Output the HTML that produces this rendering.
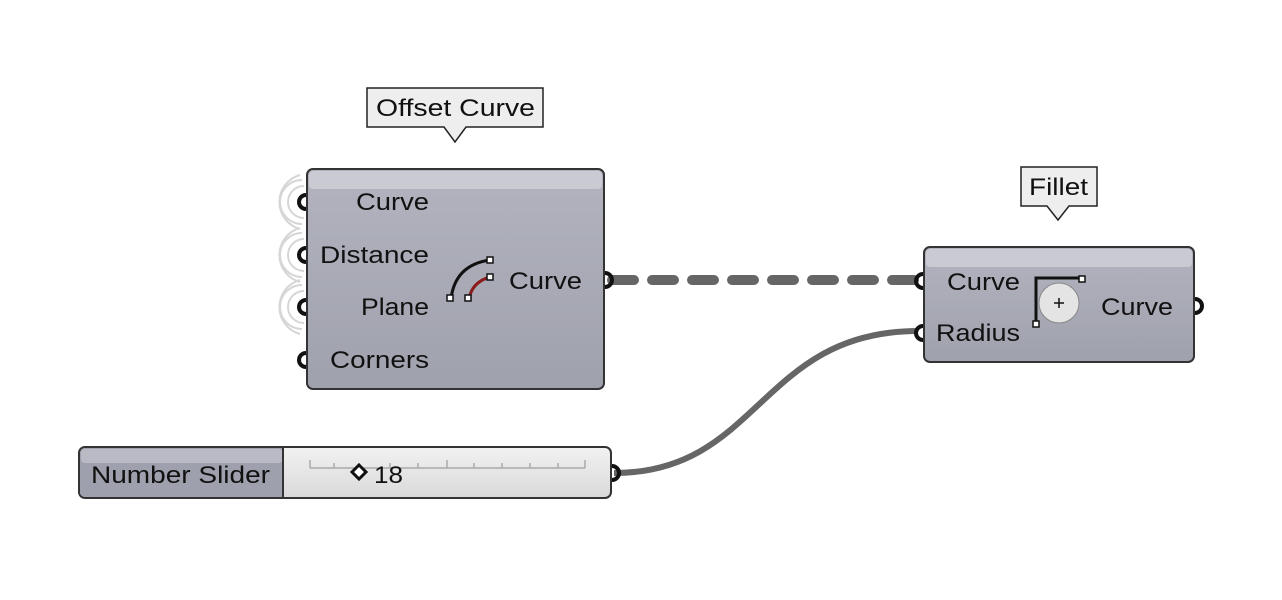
<!DOCTYPE html>
<html><head><meta charset="utf-8"><style>
html,body{margin:0;padding:0;background:#fff;width:1282px;height:600px;overflow:hidden}
text{font-family:"Liberation Sans",sans-serif;fill:#111}
</style></head><body>
<svg width="1282" height="600" viewBox="0 0 1282 600" xmlns="http://www.w3.org/2000/svg">
<defs>
<linearGradient id="nb" x1="0" y1="0" x2="0" y2="1">
<stop offset="0" stop-color="#b2b3bf"/><stop offset="1" stop-color="#9fa1ad"/></linearGradient>
<linearGradient id="sl" x1="0" y1="0" x2="0" y2="1">
<stop offset="0" stop-color="#f2f2f2"/><stop offset="1" stop-color="#d9d9d9"/></linearGradient>
</defs>
<path d="M612 280 L918 280" stroke="#666" stroke-width="10" stroke-linecap="round" stroke-dasharray="22 18" fill="none"/>
<path d="M614 473 C760 473 760 331 918 331" stroke="#666" stroke-width="6" fill="none"/>
<g fill="none" stroke="#d6d6d6" stroke-width="2">
<path d="M304 186 A16 16 0 0 0 304 218"/><path d="M302 180 A22 22 0 0 0 302 224"/><path d="M300 175 A28 28 0 0 0 300 229"/>
<path d="M304 239 A16 16 0 0 0 304 271"/><path d="M302 233 A22 22 0 0 0 302 277"/><path d="M300 228 A28 28 0 0 0 300 282"/>
<path d="M304 291 A16 16 0 0 0 304 323"/><path d="M302 285 A22 22 0 0 0 302 329"/><path d="M300 280 A28 28 0 0 0 300 334"/>
</g>
<rect x="307" y="169" width="297" height="220" rx="6" fill="url(#nb)" stroke="#333" stroke-width="2"/>
<rect x="309" y="171" width="293" height="18" rx="4" fill="#c9cad2"/>
<g fill="none" stroke="#111" stroke-width="4">
<path d="M306 195 A7 7 0 0 0 306 209"/><path d="M306 248 A7 7 0 0 0 306 262"/>
<path d="M306 300 A7 7 0 0 0 306 314"/><path d="M306 353 A7 7 0 0 0 306 367"/>
<path d="M605 273 A7 7 0 0 1 605 287"/>
</g>
<text x="356" y="210" font-size="24" textLength="73" lengthAdjust="spacingAndGlyphs">Curve</text>
<text x="320" y="263" font-size="24" textLength="109" lengthAdjust="spacingAndGlyphs">Distance</text>
<text x="361" y="315" font-size="24" textLength="68" lengthAdjust="spacingAndGlyphs">Plane</text>
<text x="330" y="368" font-size="24" textLength="99" lengthAdjust="spacingAndGlyphs">Corners</text>
<text x="509" y="289" font-size="24" textLength="73" lengthAdjust="spacingAndGlyphs">Curve</text>
<path d="M451 299 Q455 265 490 260" stroke="#111" stroke-width="3" fill="none"/>
<path d="M469 299 Q472 282 490 277" stroke="#8b1a1a" stroke-width="3" fill="none"/>
<g fill="#fff" stroke="#111" stroke-width="1.5">
<rect x="447" y="295" width="6" height="6"/><rect x="465" y="295" width="6" height="6"/>
<rect x="487" y="257" width="6" height="6"/><rect x="487" y="274" width="6" height="6"/></g>
<path d="M367 88 H543 V127 H466 L455 142 L444 127 H367 Z" fill="#eee" stroke="#222" stroke-width="1.5"/>
<text x="376" y="116" font-size="24" textLength="159" lengthAdjust="spacingAndGlyphs">Offset Curve</text>
<path d="M1021 167 H1097 V206 H1069 L1058 220 L1047 206 H1021 Z" fill="#eee" stroke="#222" stroke-width="1.5"/>
<text x="1029" y="195" font-size="24" textLength="59" lengthAdjust="spacingAndGlyphs">Fillet</text>
<rect x="924" y="247" width="270" height="115" rx="6" fill="url(#nb)" stroke="#333" stroke-width="2"/>
<rect x="926" y="249" width="266" height="18" rx="4" fill="#c9cad2"/>
<g fill="none" stroke="#111" stroke-width="4">
<path d="M923 274 A7 7 0 0 0 923 288"/><path d="M923 326 A7 7 0 0 0 923 340"/>
<path d="M1195 299 A7 7 0 0 1 1195 313"/></g>
<text x="947" y="290" font-size="24" textLength="73" lengthAdjust="spacingAndGlyphs">Curve</text>
<text x="936" y="341" font-size="24" textLength="84" lengthAdjust="spacingAndGlyphs">Radius</text>
<text x="1101" y="315" font-size="24" textLength="72" lengthAdjust="spacingAndGlyphs">Curve</text>
<circle cx="1059" cy="303" r="20" fill="#e4e4e4" stroke="#888" stroke-width="1"/>
<path d="M1036 324 V278 H1082" stroke="#111" stroke-width="3" fill="none"/>
<path d="M1054 303 H1064 M1059 298 V308" stroke="#111" stroke-width="1.5"/>
<g fill="#fff" stroke="#111" stroke-width="1.5"><rect x="1079" y="276" width="6" height="6"/><rect x="1033" y="321" width="6" height="6"/></g>
<rect x="79" y="447" width="532" height="51" rx="6" fill="url(#sl)" stroke="#333" stroke-width="2"/>
<path d="M85 448 H283 V497 H85 A5 5 0 0 1 80 492 V453 A5 5 0 0 1 85 448 Z" fill="#9ea0ad"/>
<rect x="81" y="449" width="202" height="14" rx="4" fill="#b9bac4"/>
<line x1="283" y1="447" x2="283" y2="498" stroke="#333" stroke-width="2"/>
<text x="91" y="483" font-size="24" textLength="179" lengthAdjust="spacingAndGlyphs">Number Slider</text>
<g stroke="#aaa" stroke-width="1.5">
<line x1="310" y1="468" x2="585" y2="468"/>
<line x1="310" y1="460" x2="310" y2="468"/><line x1="585" y1="460" x2="585" y2="468"/>
<line x1="334" y1="463" x2="334" y2="468"/><line x1="390" y1="463" x2="390" y2="468"/><line x1="418" y1="463" x2="418" y2="468"/>
<line x1="447" y1="460" x2="447" y2="468"/><line x1="474" y1="463" x2="474" y2="468"/><line x1="502" y1="463" x2="502" y2="468"/>
<line x1="530" y1="463" x2="530" y2="468"/><line x1="558" y1="463" x2="558" y2="468"/></g>
<path d="M359 465 L366 472 L359 479 L352 472 Z" fill="#fff" stroke="#111" stroke-width="3"/>
<text x="374" y="483" font-size="24" textLength="29" lengthAdjust="spacingAndGlyphs">18</text>
<path d="M612 466 A7 7 0 0 1 612 480" fill="none" stroke="#111" stroke-width="4"/>
</svg>
</body></html>
